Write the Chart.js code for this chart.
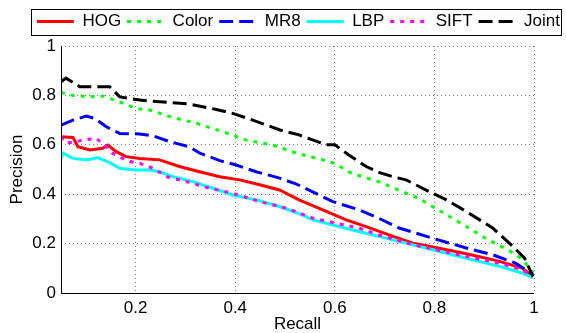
<!DOCTYPE html>
<html>
<head>
<meta charset="utf-8">
<script src="https://cdn.jsdelivr.net/npm/chart.js@4"></script>
<style>
  html, body { margin: 0; padding: 0; background: #fff; }
  #wrap { width: 566px; height: 333px; }
</style>
</head>
<body>
<div id="wrap"><canvas id="chart"></canvas></div>
<script>
const names = ['HOG', 'Color', 'MR8', 'LBP', 'SIFT', 'Joint'];
const xTicks = [0.2, 0.4, 0.6, 0.8, 1];
const yTicks = [0, 0.2, 0.4, 0.6, 0.8, 1];

// recall values, precision values per method
const hogR = [0.05, 0.074, 0.084, 0.108, 0.134, 0.144, 0.161, 0.181, 0.208, 0.248, 0.288, 0.328, 0.369, 0.409, 0.449, 0.489, 0.528, 0.583, 0.623, 0.663, 0.717, 0.757, 0.797, 0.864, 0.931, 0.976, 0.998];
const hogP = [0.633, 0.63, 0.592, 0.579, 0.586, 0.599, 0.572, 0.552, 0.545, 0.539, 0.512, 0.491, 0.471, 0.458, 0.438, 0.417, 0.377, 0.33, 0.296, 0.269, 0.229, 0.202, 0.186, 0.159, 0.128, 0.101, 0.067];

const colorR = [0.05, 0.074, 0.108, 0.134, 0.168, 0.201, 0.228, 0.274, 0.322, 0.375, 0.422, 0.475, 0.523, 0.576, 0.6, 0.633, 0.688, 0.728, 0.768, 0.802, 0.842, 0.875, 0.908, 0.948, 0.978, 0.998];
const colorP = [0.812, 0.80, 0.794, 0.797, 0.774, 0.747, 0.741, 0.711, 0.687, 0.653, 0.619, 0.599, 0.566, 0.539, 0.525, 0.485, 0.451, 0.417, 0.384, 0.343, 0.296, 0.256, 0.215, 0.175, 0.135, 0.081];

const mr8R = [0.05, 0.074, 0.101, 0.118, 0.141, 0.168, 0.208, 0.235, 0.268, 0.308, 0.329, 0.369, 0.402, 0.442, 0.489, 0.523, 0.596, 0.648, 0.688, 0.729, 0.796, 0.864, 0.917, 0.963, 0.998];
const mr8P = [0.68, 0.70, 0.716, 0.707, 0.673, 0.646, 0.644, 0.636, 0.613, 0.592, 0.566, 0.536, 0.518, 0.491, 0.465, 0.441, 0.37, 0.337, 0.303, 0.263, 0.222, 0.182, 0.155, 0.121, 0.074];

const lbpR = [0.05, 0.054, 0.074, 0.101, 0.124, 0.148, 0.168, 0.201, 0.228, 0.248, 0.275, 0.315, 0.355, 0.395, 0.442, 0.489, 0.526, 0.556, 0.648, 0.717, 0.797, 0.864, 0.931, 0.976, 0.998];
const lbpP = [0.545, 0.566, 0.545, 0.539, 0.548, 0.528, 0.505, 0.498, 0.498, 0.491, 0.471, 0.451, 0.424, 0.397, 0.377, 0.35, 0.323, 0.296, 0.249, 0.215, 0.175, 0.141, 0.108, 0.081, 0.061];

const siftR = [0.05, 0.061, 0.094, 0.121, 0.141, 0.154, 0.174, 0.188, 0.208, 0.235, 0.262, 0.302, 0.349, 0.395, 0.449, 0.503, 0.556, 0.648, 0.688, 0.757, 0.797, 0.864, 0.931, 0.976, 0.998];
const siftP = [0.633, 0.606, 0.619, 0.626, 0.592, 0.565, 0.545, 0.532, 0.525, 0.505, 0.471, 0.451, 0.424, 0.404, 0.37, 0.343, 0.303, 0.263, 0.236, 0.195, 0.178, 0.148, 0.121, 0.094, 0.067];

const jointR = [0.05, 0.06, 0.088, 0.148, 0.168, 0.208, 0.248, 0.308, 0.362, 0.395, 0.435, 0.49, 0.528, 0.583, 0.6, 0.628, 0.663, 0.69, 0.716, 0.743, 0.796, 0.824, 0.864, 0.917, 0.958, 0.981, 0.998];
const jointP = [0.855, 0.87, 0.835, 0.835, 0.794, 0.781, 0.774, 0.765, 0.743, 0.727, 0.70, 0.66, 0.64, 0.60, 0.60, 0.559, 0.512, 0.487, 0.471, 0.458, 0.404, 0.377, 0.33, 0.263, 0.188, 0.141, 0.067];

function pts(r, p) {
    return r.map((v, i) => ({x: v, y: p[i]}));
}

const styles = [
    {color: '#ff0000', dash: []},
    {color: '#00ff00', dash: [4, 6]},
    {color: '#0000ff', dash: [14, 6]},
    {color: '#00ffff', dash: []},
    {color: '#ff00ff', dash: [4, 6]},
    {color: '#000000', dash: [14, 6]}
];
const series = [pts(hogR, hogP), pts(colorR, colorP), pts(mr8R, mr8P), pts(lbpR, lbpP), pts(siftR, siftP), pts(jointR, jointP)];

const font = {family: '"Liberation Sans", Arial, sans-serif', size: 17};

// box round the legend, and solid axis lines over the dotted grid
const decorations = {
    id: 'decorations',
    afterDraw(chart) {
        const ctx = chart.ctx;
        const a = chart.chartArea;
        ctx.save();
        ctx.strokeStyle = '#000';
        ctx.lineWidth = 1;
        ctx.setLineDash([]);
        ctx.beginPath();
        ctx.moveTo(Math.round(a.left) + 0.5, Math.round(a.top));
        ctx.lineTo(Math.round(a.left) + 0.5, Math.round(a.bottom) + 0.5);
        ctx.lineTo(Math.round(a.right), Math.round(a.bottom) + 0.5);
        ctx.stroke();
        const boxes = chart.legend.legendHitBoxes;
        if (boxes && boxes.length) {
            const left = boxes[0].left - 6;
            const right = boxes[boxes.length - 1].left + boxes[boxes.length - 1].width + 1;
            const mid = boxes[0].top + boxes[0].height / 2;
            ctx.strokeRect(Math.round(left) + 0.5, Math.round(mid - 13) + 0.5, Math.round(right - left), 26);
        }
        ctx.restore();
    }
};

const chartArea = document.getElementById('chart');
const chart = new Chart(chartArea, {
    type: 'line',
    data: {
        datasets: names.map((n, i) => ({
            label: n,
            data: series[i],
            borderColor: styles[i].color,
            backgroundColor: styles[i].color,
            borderDash: styles[i].dash,
            borderWidth: 3,
            borderCapStyle: 'butt',
            pointRadius: 0,
            tension: 0,
            fill: false,
            order: names.length - i
        }))
    },
    options: {
        responsive: true,
        maintainAspectRatio: false,
        animation: false,
        layout: {padding: {top: 7, left: 0, right: 0, bottom: 0}},
        plugins: {
            tooltip: {enabled: false},
            legend: {
                position: 'top',
                align: 'end',
                labels: {
                    usePointStyle: true,
                    pointStyle: 'line',
                    pointStyleWidth: 37,
                    boxWidth: 37,
                    padding: 6,
                    color: '#000',
                    font: font,
                    sort: (a, b) => a.datasetIndex - b.datasetIndex,
                    generateLabels(chart) {
                        return chart.data.datasets.map((d, i) => ({
                            text: d.label,
                            strokeStyle: d.borderColor,
                            fillStyle: d.borderColor,
                            lineWidth: 3,
                            lineDash: d.borderDash,
                            lineCap: 'butt',
                            pointStyle: 'line',
                            fontColor: '#000',
                            datasetIndex: i
                        }));
                    }
                }
            }
        },
        scales: {
            x: {
                type: 'linear',
                min: 0.05,
                max: 1,
                afterBuildTicks: s => { s.ticks = xTicks.map(v => ({value: v})); },
                afterFit: s => { s.height = 40; },
                ticks: {color: '#000', font: font, padding: 5, maxRotation: 0, callback: v => String(v)},
                grid: {color: '#777', lineWidth: 1, drawTicks: false},
                border: {display: false, dash: [1, 3]},
                title: {display: true, text: 'Recall', color: '#000', font: {family: font.family, size: 17, lineHeight: 1}, padding: {top: 0, bottom: 0}}
            },
            x2: {
                type: 'linear',
                position: 'top',
                min: 0.05,
                max: 1,
                afterFit: s => { s.height = 6; },
                ticks: {display: false},
                grid: {display: false},
                border: {display: false}
            },
            y: {
                min: 0,
                max: 1,
                afterBuildTicks: s => { s.ticks = yTicks.map(v => ({value: v})); },
                afterFit: s => { s.width = 61; },
                ticks: {color: '#000', font: font, padding: 5, callback: v => String(v)},
                grid: {color: '#777', lineWidth: 1, drawTicks: false},
                border: {display: false, dash: [1, 3]},
                title: {display: true, text: 'Precision', color: '#000', font: font, padding: {top: 7, bottom: 0}}
            },
            y2: {
                position: 'right',
                min: 0,
                max: 1,
                afterFit: s => { s.width = 32; },
                ticks: {display: false},
                grid: {display: false},
                border: {display: false}
            }
        }
    },
    plugins: [decorations]
});
</script>
</body>
</html>
